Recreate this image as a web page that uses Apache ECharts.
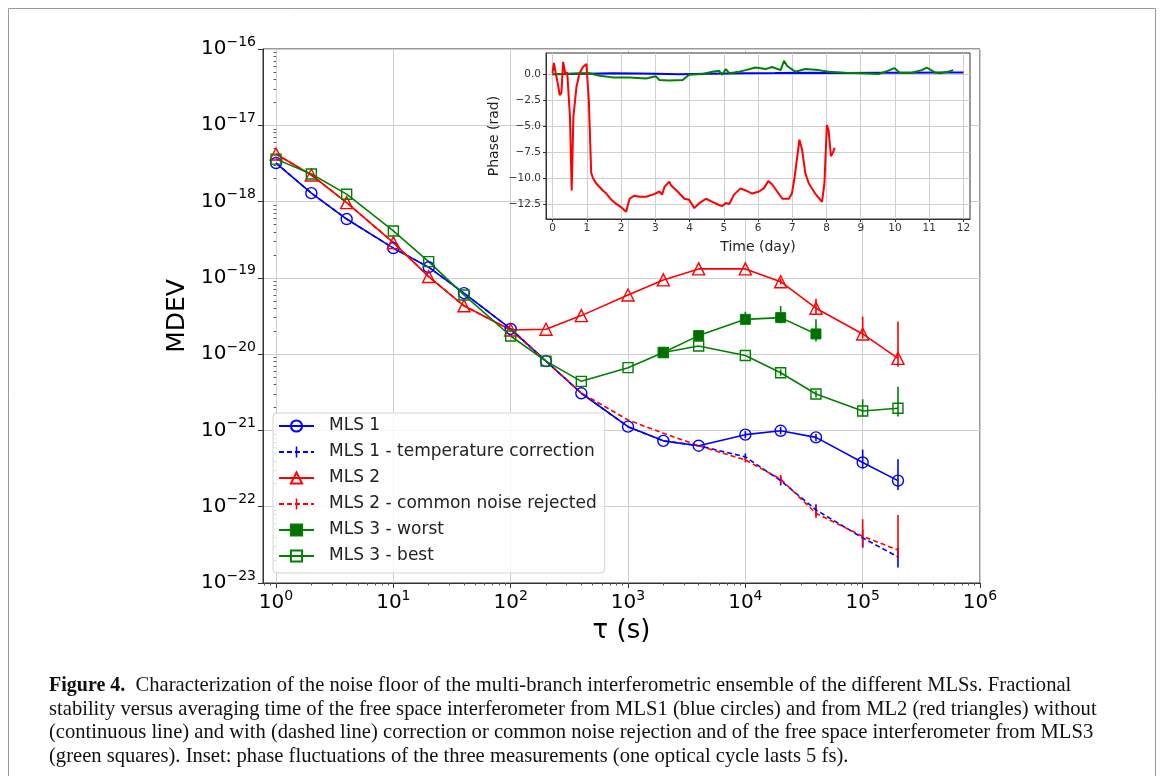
<!DOCTYPE html>
<html><head><meta charset="utf-8">
<script src="https://cdn.jsdelivr.net/npm/echarts@6/dist/echarts.min.js"></script>
<style>html,body{margin:0;padding:0;background:#fff}#c{width:1163px;height:776px}</style>
</head><body><div id="c"></div>
<script>
// ---------- main plot data ----------
const tau = [1, 2, 4, 10, 20, 40, 100, 200, 400, 1000, 2000, 4000, 10000, 20000, 40000, 100000, 200000];
const mls1 = [3.2e-18, 1.29e-18, 5.9e-19, 2.45e-19, 1.38e-19, 6.3e-20, 2.14e-20, 8.1e-21, 3.07e-21, 1.12e-21, 7.3e-22, 6.3e-22, 8.8e-22, 9.9e-22, 8.1e-22, 3.8e-22, 2.2e-22];
const mls1Temp = [3.2e-18, 1.29e-18, 5.9e-19, 2.45e-19, 1.38e-19, 6.3e-20, 2.14e-20, 8.1e-21, 3.07e-21, 1.12e-21, 7.3e-22, 6.3e-22, 4.5e-22, 2.2e-22, 9.1e-23, 3.9e-23, 2.2e-23];
const mls2 = [4.2e-18, 2.23e-18, 9.7e-19, 2.9e-19, 1.04e-19, 4.3e-20, 2.07e-20, 2.12e-20, 3.2e-20, 5.97e-20, 9.4e-20, 1.31e-19, 1.31e-19, 8.9e-20, 4.0e-20, 1.84e-20, 8.8e-21];
const mls2Common = [4.2e-18, 2.23e-18, 9.7e-19, 2.9e-19, 1.04e-19, 4.3e-20, 2.07e-20, 8.1e-21, 3.1e-21, 1.37e-21, 9.2e-22, 6.3e-22, 4.1e-22, 2.3e-22, 8.2e-23, 4.1e-23, 2.7e-23];
const tauWorst = [2000, 4000, 10000, 20000, 40000];
const mls3Worst = [1.05e-20, 1.75e-20, 2.86e-20, 3.01e-20, 1.84e-20];
const mls3Best = [3.6e-18, 2.3e-18, 1.25e-18, 4.12e-19, 1.63e-19, 5.97e-20, 1.73e-20, 8.1e-21, 4.4e-21, 6.65e-21, 1.05e-20, 1.28e-20, 9.6e-21, 5.7e-21, 3.0e-21, 1.8e-21, 1.95e-21];
// error bars: [tau, low, high]
const mls1Err = [[10000, 7.9e-22, 9.8e-22], [20000, 8.9e-22, 1.11e-21], [40000, 7.2e-22, 9.0e-22], [100000, 3.2e-22, 5.6e-22], [200000, 1.66e-22, 4.2e-22]];
const mls1TempErr = [[10000, 4.1e-22, 5.0e-22], [20000, 1.9e-22, 2.5e-22], [40000, 7.6e-23, 1.08e-22], [100000, 2.9e-23, 5.0e-23], [200000, 1.6e-23, 2.9e-23]];
const mls2Err = [[20000, 8.2e-20, 9.7e-20], [40000, 3.27e-20, 5.34e-20], [100000, 1.61e-20, 3.1e-20], [200000, 6.86e-21, 2.67e-20]];
const mls2CommonErr = [[10000, 3.8e-22, 4.4e-22], [20000, 2.05e-22, 2.61e-22], [40000, 7.1e-23, 1.02e-22], [100000, 3.0e-23, 6.86e-23], [200000, 2.01e-23, 7.8e-23]];
const mls3WorstErr = [[10000, 2.54e-20, 3.6e-20], [20000, 2.54e-20, 4.28e-20], [40000, 1.46e-20, 2.87e-20]];
const mls3BestErr = [[20000, 5.2e-21, 6.3e-21], [40000, 2.7e-21, 3.35e-21], [100000, 1.52e-21, 2.56e-21], [200000, 1.52e-21, 3.75e-21]];
const xTickExps = [0, 1, 2, 3, 4, 5, 6];
const yTickExps = [-23, -22, -21, -20, -19, -18, -17, -16];

// ---------- inset data: [time (day), phase (rad)] ----------
const redPhase = [[0,0.1],[0.04,1.1],[0.1,0],[0.16,-1.0],[0.21,-2.0],[0.26,-1.8],[0.31,1.2],[0.37,0.1],[0.43,0.15],[0.47,0],[0.51,-4.1],[0.56,-11.2],[0.61,-4.1],[0.70,-1.2],[0.79,0.1],[0.89,0.7],[0.99,1.0],[1.06,-2.5],[1.13,-9.5],[1.18,-10.0],[1.27,-10.5],[1.47,-11.2],[1.57,-11.5],[1.72,-12.1],[1.86,-12.5],[2.0,-12.8],[2.15,-13.25],[2.25,-12.0],[2.39,-11.7],[2.54,-11.8],[2.73,-11.8],[2.97,-11.55],[3.12,-11.3],[3.2,-11.6],[3.27,-10.85],[3.41,-10.35],[3.46,-10.7],[3.65,-11.3],[3.85,-12.0],[3.99,-12.1],[4.14,-12.9],[4.28,-12.45],[4.48,-12.0],[4.67,-12.3],[4.86,-12.6],[4.96,-12.7],[5.06,-12.4],[5.16,-12.5],[5.30,-11.6],[5.49,-11.0],[5.64,-11.2],[5.83,-11.5],[6.03,-11.3],[6.17,-11.0],[6.3,-10.3],[6.41,-10.6],[6.56,-11.3],[6.71,-12.0],[6.9,-12.0],[6.99,-11.5],[7.07,-9.9],[7.21,-6.3],[7.29,-7.3],[7.38,-9.5],[7.48,-10.5],[7.67,-11.5],[7.82,-12.1],[7.87,-12.3],[7.94,-10.5],[8.01,-4.9],[8.06,-5.4],[8.13,-7.9],[8.18,-7.6],[8.24,-7.1]];
const bluePhase = [[0,0],[0.5,0.02],[1.0,0.05],[1.76,0.1],[2.5,0.08],[3.0,0.05],[3.7,0],[4.5,0.05],[5.6,0.1],[6.5,0.12],[7.6,0.15],[8.5,0.12],[9.5,0.15],[10.5,0.15],[11.3,0.17],[12.0,0.17]];
const greenPhase = [[0,0],[0.79,0.1],[1.08,0.1],[1.38,-0.15],[1.76,-0.3],[2.25,-0.3],[2.73,-0.4],[3.02,-0.2],[3.12,-0.55],[3.41,-0.6],[3.8,-0.55],[3.99,-0.05],[4.38,0.03],[4.67,0.25],[4.86,0.35],[4.96,-0.05],[5.06,0.5],[5.16,0.1],[5.45,0.25],[5.64,0.4],[5.93,0.65],[6.22,0.5],[6.41,0.7],[6.66,0.4],[6.76,1.3],[6.85,0.8],[7.09,0.25],[7.38,0.5],[7.77,0.4],[8.06,0.25],[8.55,0.15],[9.03,0.1],[9.52,0.03],[9.81,0.35],[9.98,0.6],[10.14,0.15],[10.49,0.15],[10.78,0.4],[10.93,0.65],[11.17,0.15],[11.31,0.1],[11.55,0.25],[11.7,0.4]];
const insetXTicks = [0,1,2,3,4,5,6,7,8,9,10,11,12];
const insetYTicks = [0, -2.5, -5, -7.5, -10, -12.5];

const caption = [
  '{b|Figure 4.}  Characterization of the noise floor of the multi-branch interferometric ensemble of the different MLSs. Fractional',
  'stability versus averaging time of the free space interferometer from MLS1 (blue circles) and from ML2 (red triangles) without',
  '(continuous line) and with (dashed line) correction or common noise rejection and of the free space interferometer from MLS3',
  '(green squares). Inset: phase fluctuations of the three measurements (one optical cycle lasts 5 fs).'
];

// ---------- helpers ----------
const BLUE = '#0000ff', RED = '#ff0000', GREEN = '#008000';
const L = Math.log10;
const zipLog = (xs, ys) => xs.map((x, i) => [L(x), L(ys[i])]);
const errLog = (arr) => arr.map(d => [L(d[0]), L(d[1]), L(d[2])]);
function minorList(e0, e1, lo, hi) {
  const out = [];
  for (let e = e0; e <= e1; e++) for (let k = 2; k <= 9; k++) {
    const v = e + L(k); if (v > lo && v < hi) out.push(v);
  }
  return out;
}
const X_MIN = -0.111, X_MAX = 6, Y_MIN = -23, Y_MAX = -16;
const xMinor = minorList(-1, 5, X_MIN, X_MAX);
const yMinor = minorList(-24, -17, Y_MIN, Y_MAX);
function powLabel(v) {
  const e = Math.round(v);
  return '{b|10}{s|' + (e < 0 ? '\u2212' : '') + Math.abs(e) + '}';
}
const powRich = {
  b: { fontSize: 20, color: '#000', fontFamily: 'DejaVu Sans' },
  s: { fontSize: 14, color: '#000', fontFamily: 'DejaVu Sans', padding: [0, 0, 14, 0] }
};
function errRender(params, api) {
  const x = api.value(0);
  const p1 = api.coord([x, api.value(1)]);
  const p2 = api.coord([x, api.value(2)]);
  return { type: 'line', shape: { x1: p1[0], y1: p1[1], x2: p2[0], y2: p2[1] },
           style: { stroke: api.visual('color'), lineWidth: 1.6 } };
}
const barSym = 'path://M0,5 L10,5 Z M4.3,0 L5.7,0 L5.7,10 L4.3,10 Z';

function mainLine(name, x, y, color, symbol, opts) {
  return Object.assign({
    type: 'line', name: name, xAxisIndex: 0, yAxisIndex: 0, data: zipLog(x, y),
    symbol: symbol, symbolSize: 11, showSymbol: true,
    lineStyle: { color: color, width: 1.6 },
    itemStyle: { color: 'rgba(0,0,0,0)', borderColor: color, borderWidth: 1.4 },
    z: 3, animation: false
  }, opts || {});
}
function errSeries(data, color) {
  return { type: 'custom', xAxisIndex: 0, yAxisIndex: 0, data: errLog(data), renderItem: errRender,
           itemStyle: { color: color }, encode: { x: 0, y: [1, 2] }, z: 3, animation: false, silent: true };
}

const chart = echarts.init(document.getElementById('c'), null, { renderer: 'canvas' });
const axisCol = '#333';
const grid0Split = { show: true, lineStyle: { color: '#cfcfcf', width: 1 } };
const option = {
  animation: false,
  backgroundColor: '#fff',
  textStyle: { fontFamily: 'DejaVu Sans' },
  grid: [
    { left: 263, top: 49, width: 717, height: 534, show: true, borderColor: axisCol, borderWidth: 1, backgroundColor: 'transparent', z: 0 },
    { left: 546, top: 53, width: 424, height: 166, show: true, borderColor: axisCol, borderWidth: 1, backgroundColor: '#fff', z: 5 }
  ],
  xAxis: [
    { type: 'value', gridIndex: 0, min: X_MIN, max: X_MAX,
      name: '\u03c4 (s)', nameLocation: 'middle', nameGap: 34,
      nameTextStyle: { fontSize: 26, color: '#000', fontFamily: 'DejaVu Sans' },
      axisLine: { show: true, onZero: false, lineStyle: { color: axisCol, width: 1 } },
      axisTick: { show: true, length: 5, customValues: xTickExps, lineStyle: { color: axisCol } },
      axisLabel: { customValues: xTickExps, formatter: powLabel, rich: powRich, margin: 6 },
      splitLine: grid0Split, z: 1 },
    { type: 'value', gridIndex: 1, min: -0.19, max: 12.19,
      name: 'Time (day)', nameLocation: 'middle', nameGap: 21,
      nameTextStyle: { fontSize: 14, color: '#222', fontFamily: 'DejaVu Sans' },
      axisLine: { show: true, onZero: false, lineStyle: { color: axisCol } },
      axisTick: { show: true, length: 3, customValues: insetXTicks, lineStyle: { color: axisCol } },
      axisLabel: { customValues: insetXTicks, fontSize: 10.5, color: '#333', margin: 4 },
      splitLine: { show: true, lineStyle: { color: '#cfcfcf', width: 1 } }, z: 6 },
    { type: 'value', gridIndex: 0, min: X_MIN, max: X_MAX, position: 'bottom',
      axisLine: { show: false }, axisLabel: { show: false }, splitLine: { show: false },
      axisTick: { show: true, length: 2.5, customValues: xMinor, lineStyle: { color: '#555' } }, z: 1 }
  ],
  yAxis: [
    { type: 'value', gridIndex: 0, min: Y_MIN, max: Y_MAX,
      name: 'MDEV', nameLocation: 'middle', nameGap: 68, nameRotate: 90,
      nameTextStyle: { fontSize: 25, color: '#000', fontFamily: 'DejaVu Sans' },
      axisLine: { show: true, onZero: false, lineStyle: { color: axisCol, width: 1 } },
      axisTick: { show: true, length: 5, customValues: yTickExps, lineStyle: { color: axisCol } },
      axisLabel: { customValues: yTickExps, formatter: powLabel, rich: powRich, margin: 7 },
      splitLine: grid0Split, z: 1 },
    { type: 'value', gridIndex: 1, min: -13.95, max: 2.05,
      name: 'Phase (rad)', nameLocation: 'middle', nameGap: 45, nameRotate: 90,
      nameTextStyle: { fontSize: 14, color: '#222', fontFamily: 'DejaVu Sans' },
      axisLine: { show: true, onZero: false, lineStyle: { color: axisCol } },
      axisTick: { show: true, length: 3, customValues: insetYTicks, lineStyle: { color: axisCol } },
      axisLabel: { customValues: insetYTicks, fontSize: 10.5, color: '#333', margin: 5,
                   formatter: v => (v < 0 ? '\u2212' : '') + Math.abs(v).toFixed(1) },
      splitLine: { show: true, lineStyle: { color: '#cfcfcf', width: 1 } }, z: 6 },
    { type: 'value', gridIndex: 0, min: Y_MIN, max: Y_MAX, position: 'left',
      axisLine: { show: false }, axisLabel: { show: false }, splitLine: { show: false },
      axisTick: { show: true, length: 2.5, customValues: yMinor, lineStyle: { color: '#555' } }, z: 1 }
  ],
  legend: {
    show: true, left: 273, top: 413, orient: 'vertical',
    data: ['MLS 1', 'MLS 1 - temperature correction', 'MLS 2', 'MLS 2 - common noise rejected', 'MLS 3 - worst', 'MLS 3 - best'],
    itemWidth: 35, itemHeight: 14, itemGap: 6,
    padding: [3, 8, 7, 5],
    backgroundColor: 'rgba(255,255,255,0.8)', borderColor: '#d4d4d4', borderWidth: 1, borderRadius: 4,
    textStyle: { fontSize: 17, color: '#222', lineHeight: 20, fontFamily: 'DejaVu Sans', padding: [0, 0, 0, 10] },
    z: 10
  },
  graphic: [
    { type: 'rect', shape: { x: 8.5, y: 8.5, width: 1147, height: 800 }, style: { fill: 'none', stroke: '#9a9a9a', lineWidth: 1 }, silent: true, z: -1 },
    { type: 'text', left: 49, top: 674,
      style: { text: caption.join('\n'), fontFamily: 'Liberation Serif', fontSize: 20.6, lineHeight: 23.5, fill: '#111',
               rich: { b: { fontFamily: 'Liberation Serif', fontWeight: 'bold', fontSize: 20, fill: '#111' } } } }
  ],
  series: [
    mainLine('MLS 1', tau, mls1, BLUE, 'circle'),
    errSeries(mls1Err, BLUE),
    mainLine('MLS 1 - temperature correction', tau, mls1Temp, BLUE, barSym,
      { showSymbol: false, lineStyle: { color: BLUE, width: 1.6, type: [5, 3] }, itemStyle: { color: BLUE } }),
    errSeries(mls1TempErr, BLUE),
    mainLine('MLS 2', tau, mls2, RED, 'triangle', { symbolSize: 12 }),
    errSeries(mls2Err, RED),
    mainLine('MLS 2 - common noise rejected', tau, mls2Common, RED, barSym,
      { showSymbol: false, lineStyle: { color: RED, width: 1.6, type: [5, 3] }, itemStyle: { color: RED } }),
    errSeries(mls2CommonErr, RED),
    mainLine('MLS 3 - worst', tauWorst, mls3Worst, GREEN, 'rect',
      { symbolSize: 10, itemStyle: { color: '#006f00', borderColor: GREEN, borderWidth: 1 } }),
    errSeries(mls3WorstErr, GREEN),
    mainLine('MLS 3 - best', tau, mls3Best, GREEN, 'rect', { symbolSize: 10 }),
    errSeries(mls3BestErr, GREEN),
    { type: 'line', name: 'inset blue', xAxisIndex: 1, yAxisIndex: 1, data: bluePhase, showSymbol: false, symbol: 'none',
      lineStyle: { color: BLUE, width: 2 }, z: 7 },
    { type: 'line', name: 'inset green', xAxisIndex: 1, yAxisIndex: 1, data: greenPhase, showSymbol: false, symbol: 'none',
      lineStyle: { color: GREEN, width: 2 }, z: 7 },
    { type: 'line', name: 'inset red', xAxisIndex: 1, yAxisIndex: 1, data: redPhase, showSymbol: false, symbol: 'none',
      lineStyle: { color: RED, width: 2 }, z: 7 }
  ]
};
chart.setOption(option);
</script></body></html>
